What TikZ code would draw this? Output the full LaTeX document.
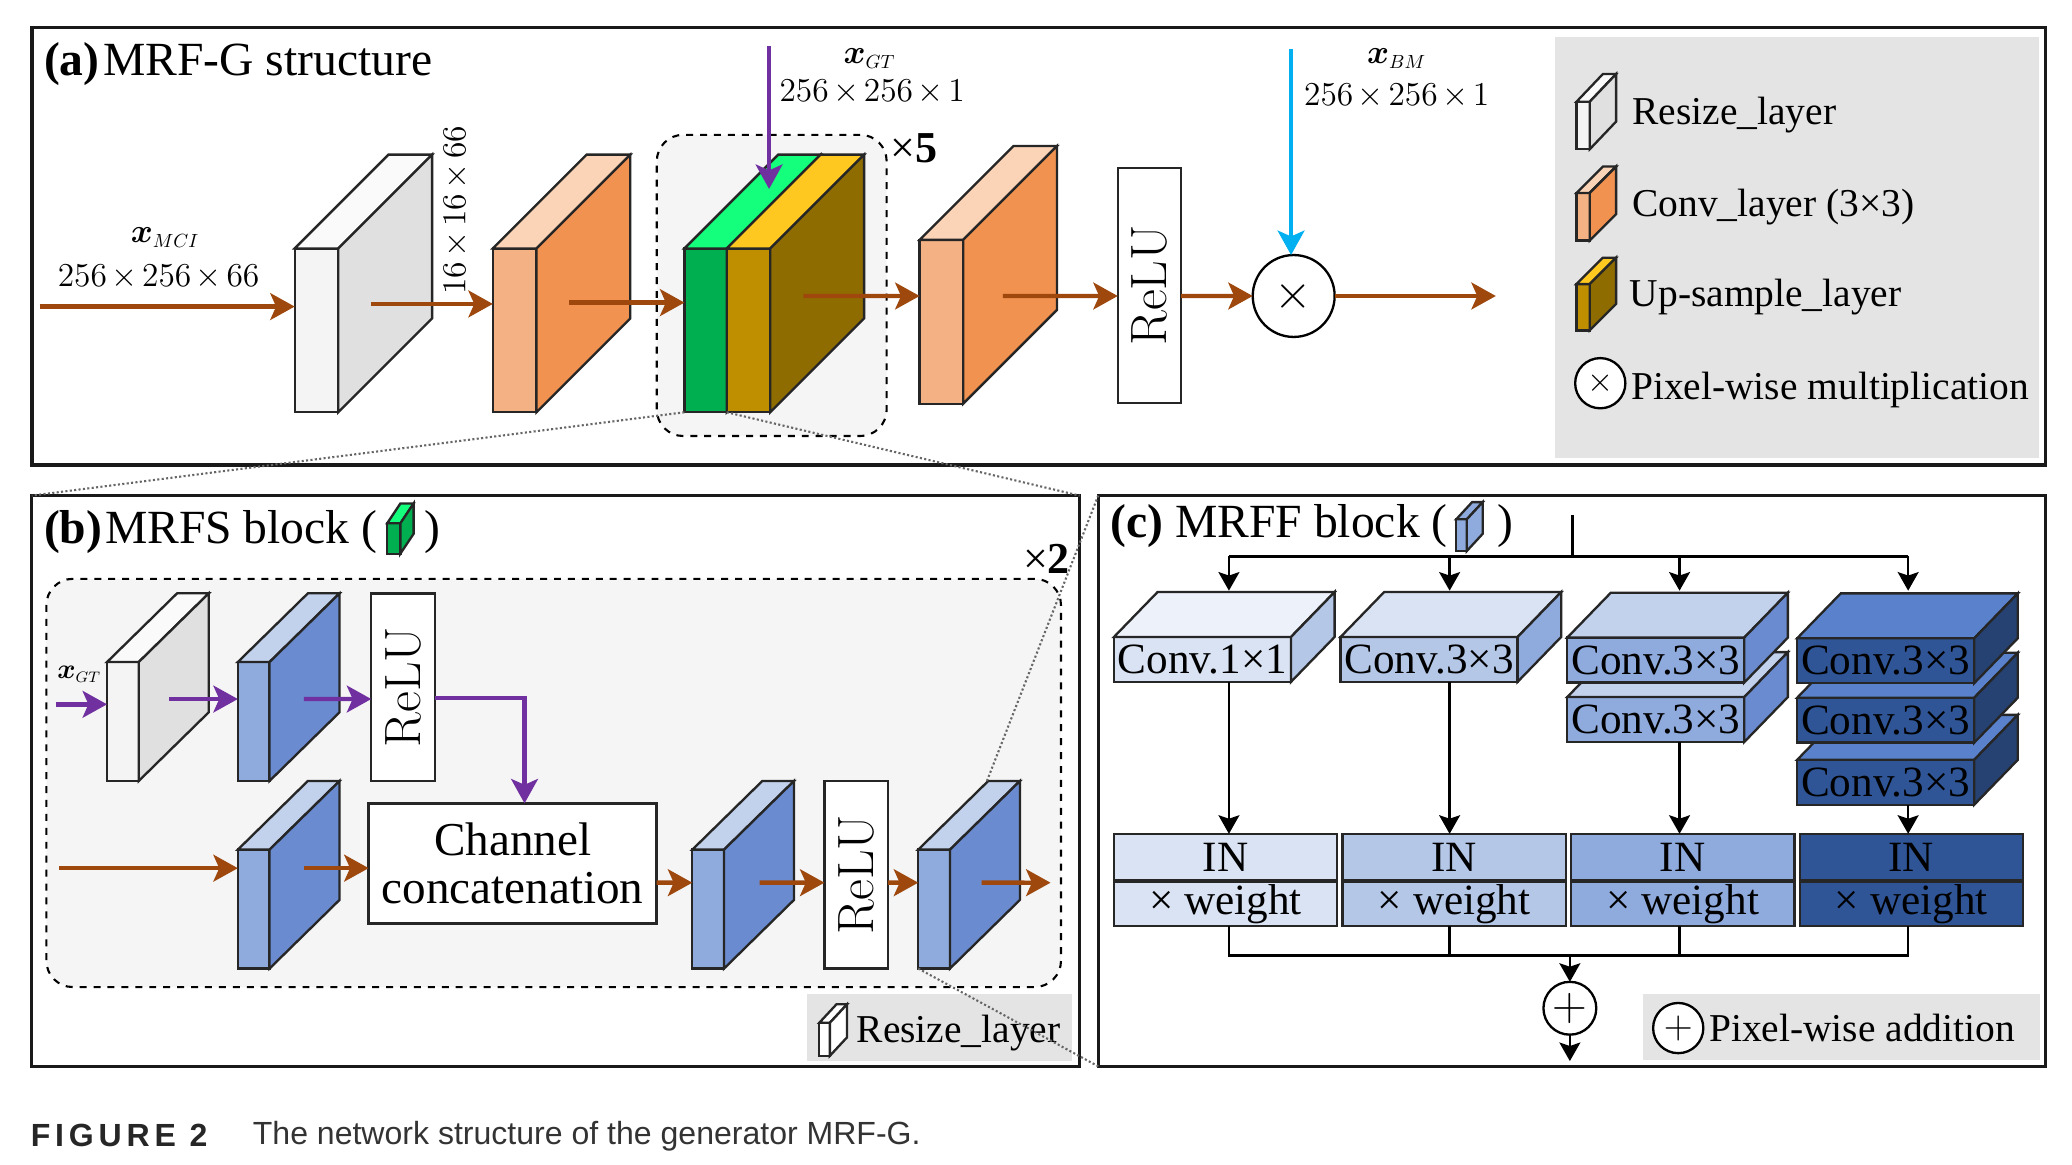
\documentclass[tikz,border=0pt]{standalone}
\usepackage[no-math]{fontspec}
\usepackage{bm}
\usepackage{xcolor}
\usetikzlibrary{arrows.meta,positioning,calc}
\setmainfont{Liberation Serif}
\newfontfamily\cmfont{Latin Modern Roman}
\newfontfamily\capfont{Liberation Sans}
\newfontfamily\capspaced[LetterSpace=15]{Liberation Sans}
\definecolor{flowbrown}{HTML}{9E480E}
\definecolor{flowpurple}{HTML}{7030A0}
\definecolor{flowblue}{HTML}{00B0F0}
\definecolor{panelgray}{HTML}{E4E4E4}
\definecolor{groupgray}{HTML}{F5F5F5}
\definecolor{whitefront}{HTML}{F4F4F4}
\definecolor{whitetop}{HTML}{FAFAFA}
\definecolor{whiteside}{HTML}{E0E0E0}
\definecolor{orangefront}{HTML}{F4B183}
\definecolor{orangetop}{HTML}{FBD3B6}
\definecolor{orangeside}{HTML}{F29250}
\definecolor{greenfront}{HTML}{00AF50}
\definecolor{greentop}{HTML}{14FF7C}
\definecolor{yellowfront}{HTML}{BF8F00}
\definecolor{yellowtop}{HTML}{FFC820}
\definecolor{yellowside}{HTML}{8F6C00}
\definecolor{bluefront}{HTML}{8FAADC}
\definecolor{bluetop}{HTML}{C2D1EC}
\definecolor{blueside}{HTML}{6A8BCF}
\definecolor{paleone}{HTML}{DAE3F3}
\definecolor{paletop}{HTML}{EDF1FA}
\definecolor{paletwo}{HTML}{B4C7E7}
\definecolor{deepfront}{HTML}{2F5597}
\definecolor{deeptop}{HTML}{5A82CC}
\definecolor{deepside}{HTML}{264273}
\tikzset{
  framebox/.style={rectangle, draw=black!90, line width=1.4pt, inner sep=0pt, outer sep=0pt},
  groupbox/.style={rectangle, draw=black, dashed, fill=groupgray, line width=0.9pt,
    rounded corners=0.4cm, inner sep=0pt, outer sep=0pt},
  keybox/.style={rectangle, fill=panelgray, inner sep=0pt, outer sep=0pt},
  front/.style={rectangle, draw=black!85, line width=1pt, fill=#1, inner sep=0pt, outer sep=0pt},
  front/.default=white,
  relubox/.style={rectangle, draw=black!85, line width=1pt, fill=white, inner sep=0pt, outer sep=0pt,
    minimum width=0.96cm, font=\fontsize{22}{24}\cmfont},
  flow/.style={-{Stealth[length=10.5pt,width=11.5pt,inset=2.5pt]}, line width=1.9pt, color=#1},
  flow/.default=flowbrown,
  branch/.style={-{Stealth[length=8pt,width=9pt,inset=1.5pt]}, line width=1.1pt, color=black},
  wire/.style={line width=1.1pt, color=black},
  zoomline/.style={densely dotted, line width=0.9pt, color=black!60},
  opnode/.style={circle, draw=black, line width=1pt, fill=white, inner sep=0pt, outer sep=0pt,
    minimum size=#1},
  titletext/.style={anchor=base west, inner sep=0pt, font=\fontsize{20.5}{24}\selectfont},
  keytext/.style={anchor=west, inner sep=0pt, font=\fontsize{17}{20}\selectfont},
  dimtext/.style={inner sep=0pt, font=\fontsize{14.4}{16}\selectfont},
  convtext/.style={font=\fontsize{18.6}{20}\selectfont},
}
\newcommand{\layerfaces}[5]{%
  \draw[draw=black!85, line width=1pt, fill=#4] (#1.north west) -- ++(#2,-#3)
    -- ($(#1.north east)+(#2,-#3)$) -- (#1.north east) -- cycle;
  \draw[draw=black!85, line width=1pt, fill=#5] (#1.north east) -- ++(#2,-#3)
    -- ($(#1.south east)+(#2,-#3)$) -- (#1.south east) -- cycle;
}
\newcommand{\sizelabel}[3]{$#1\mkern2.5mu{\times}\mkern2.5mu#2\mkern2.5mu{\times}\mkern2.5mu#3$}
\newcommand{\inputlabel}[1]{$\bm{x}_{\scalebox{0.82}{$\scriptstyle #1$}}$}
\begin{document}
\begin{tikzpicture}[x=0.02cm, y=-0.02cm]
\useasboundingbox (0,0) rectangle (1568,881);
\node[framebox, minimum width=30.48cm, minimum height=6.62cm] (framea) at (786,186.5) {};
\node[framebox, minimum width=15.86cm, minimum height=8.64cm] (frameb) at (420.5,591) {};
\node[framebox, minimum width=14.34cm, minimum height=8.64cm] (framec) at (1189.5,591) {};
\node[titletext] (titlea) at (33,57) {\textbf{(a)}\hspace{1.6pt}MRF-G structure};
\node[titletext] (titleb) at (33,411) {\textbf{(b)}\hspace{1.2pt}MRFS block (\hspace{0.72cm})};
\node[titletext] (titlec) at (840,407) {\textbf{(c)} MRFF block (\hspace{0.76cm})};
\node[front=greenfront, minimum width=0.2cm, minimum height=0.46cm] (greenkey) at (298,407.5) {};
\layerfaces{greenkey}{10}{15}{greentop}{greenfront}
\node[front=bluefront, minimum width=0.16cm, minimum height=0.48cm] (bluekey) at (1106,405) {};
\layerfaces{bluekey}{12}{13}{bluefront}{bluefront}
% panel a
\node[groupbox, minimum width=3.48cm, minimum height=4.56cm] (groupa) at (584,216) {};
\node[front=whitefront, minimum width=0.66cm, minimum height=2.48cm] (resize) at (239.5,250) {};
\layerfaces{resize}{71}{71}{whitetop}{whiteside}
\node[front=orangefront, minimum width=0.66cm, minimum height=2.48cm, right=2.34cm of resize] (orangea) {};
\layerfaces{orangea}{71}{71}{orangetop}{orangeside}
\node[front=greenfront, minimum width=0.64cm, minimum height=2.48cm, right=2.24cm of orangea] (green) {};
\layerfaces{green}{71}{71}{greentop}{yellowside}
\node[front=yellowfront, minimum width=0.66cm, minimum height=2.48cm, right=0cm of green] (yellow) {};
\layerfaces{yellow}{71}{71}{yellowtop}{yellowside}
\node[front=orangefront, minimum width=0.66cm, minimum height=2.48cm, right=2.26cm of yellow, yshift=0.13cm] (orangeb) {};
\layerfaces{orangeb}{71}{71}{orangetop}{orangeside}
\node[relubox, minimum height=3.56cm, right=2.34cm of orangeb, yshift=0.55cm] (relu) {\rotatebox{90}{ReLU}};
\node[opnode=1.24cm, font=\fontsize{21}{21}\selectfont] (mult) at (979,224) {$\times$};
\node[dimtext] (mcilabel) at (125,180) {\inputlabel{MCI}};
\node[dimtext] (mcisize) at (120,210) {\sizelabel{256}{256}{66}};
\node[dimtext, rotate=90] (resizesize) at (345,159) {\sizelabel{16}{16}{66}};
\node[dimtext] (gtlabel) at (658,44) {\inputlabel{GT}};
\node[dimtext] (gtsize) at (660,70) {\sizelabel{256}{256}{1}};
\node[dimtext] (bmlabel) at (1057,44) {\inputlabel{BM}};
\node[dimtext] (bmsize) at (1057,73) {\sizelabel{256}{256}{1}};
\node[inner sep=0pt, font=\fontsize{19}{22}\selectfont] (timesfive) at (692,112) {×\textbf{5}};
\coordinate (mciin) at (30,232);
\coordinate (gtin) at (582,35);
\coordinate (gtend) at (582,143);
\coordinate (bmin) at (977,37);
\coordinate (outa) at (1132,224);
\draw[flow] (mciin) -- (resize.west |- mciin);
\draw[flow] ([xshift=0.5cm,yshift=0.4cm]resize.east) -- ([yshift=0.4cm]orangea.west);
\draw[flow] ([xshift=0.5cm,yshift=0.42cm]orangea.east) -- ([yshift=0.42cm]green.west);
\draw[flow] ([xshift=0.5cm,yshift=0.52cm]yellow.east) -- ([yshift=0.39cm]orangeb.west);
\draw[flow] ([xshift=0.6cm,yshift=0.39cm]orangeb.east) -- ([yshift=-0.16cm]relu.west);
\draw[flow] ([yshift=-0.16cm]relu.east) -- (mult.west);
\draw[flow] (mult.east) -- (outa);
\draw[flow=flowpurple] (gtin) -- (gtend);
\draw[flow=flowblue] (bmin) -- (mult.north -| bmin);
% legend a
\node[keybox, minimum width=7.32cm, minimum height=6.38cm] (keya) at (1360,187.5) {};
\node[front=whitefront, minimum width=0.2cm, minimum height=0.72cm] (keyresize) at (1198,95) {};
\layerfaces{keyresize}{20}{21}{whitetop}{whiteside}
\node[front=orangefront, minimum width=0.2cm, minimum height=0.72cm] (keyconv) at (1198,164) {};
\layerfaces{keyconv}{20}{20}{orangetop}{orangeside}
\node[front=yellowfront, minimum width=0.2cm, minimum height=0.7cm] (keyup) at (1198,232.5) {};
\layerfaces{keyup}{20}{20}{yellowtop}{yellowside}
\node[opnode=0.76cm, font=\fontsize{15.5}{16}\selectfont] (keymult) at (1211,290) {$\times$};
\node[keytext] (textresize) at (1235,87) {Resize\_layer};
\node[keytext] (textconv) at (1235,157) {Conv\_layer (3×3)};
\node[keytext] (textup) at (1233,225) {Up-sample\_layer};
\node[keytext] (textmult) at (1234,295) {Pixel-wise multiplication};
% panel b
\node[groupbox, minimum width=15.36cm, minimum height=6.18cm] (groupb) at (419,592.5) {};
\node[inner sep=0pt, font=\fontsize{19}{22}\selectfont] (timestwo) at (792,423) {×\textbf{2}};
\node[front=whitefront, minimum width=0.48cm, minimum height=1.8cm] (resizeb) at (93,546) {};
\layerfaces{resizeb}{53}{52}{whitetop}{whiteside}
\node[front=bluefront, minimum width=0.48cm, minimum height=1.8cm, right=1.5cm of resizeb] (blueone) {};
\layerfaces{blueone}{53}{52}{bluetop}{blueside}
\node[relubox, minimum height=2.84cm, right=1.54cm of blueone, yshift=0.52cm] (relutop) {\rotatebox{90}{ReLU}};
\node[front=bluefront, minimum width=0.48cm, minimum height=1.8cm, below=1.04cm of blueone] (bluetwo) {};
\layerfaces{bluetwo}{53}{52}{bluetop}{blueside}
\node[relubox, minimum width=4.36cm, minimum height=1.82cm, right=1.5cm of bluetwo, yshift=0.69cm,
  align=center, font=\fontsize{20.3}{20.5}\selectfont] (concat) {Channel\\concatenation};
\node[front=bluefront, minimum width=0.48cm, minimum height=1.8cm, right=0.54cm of concat, yshift=-0.69cm] (bluethree) {};
\layerfaces{bluethree}{53}{52}{bluetop}{blueside}
\node[relubox, minimum height=2.84cm, right=1.52cm of bluethree, yshift=0.52cm] (relubot) {\rotatebox{90}{ReLU}};
\node[front=bluefront, minimum width=0.48cm, minimum height=1.8cm, right=0.46cm of relubot, yshift=-0.52cm] (bluefour) {};
\layerfaces{bluefour}{53}{52}{bluetop}{blueside}
\node[inner sep=0pt, font=\fontsize{12}{14}\selectfont] (gtlabelb) at (60,510) {\inputlabel{GT}};
\coordinate (gtbin) at (42,533);
\coordinate (brownb) at (45,657);
\coordinate (outb) at (795,668);
\draw[flow=flowpurple] (gtbin) -- (resizeb.west |- gtbin);
\draw[flow=flowpurple] ([xshift=0.46cm,yshift=0.34cm]resizeb.east) -- ([yshift=0.34cm]blueone.west);
\draw[flow=flowpurple] ([xshift=0.52cm,yshift=0.34cm]blueone.east) -- ([yshift=-0.18cm]relutop.west);
\draw[flow=flowpurple] ([yshift=-0.16cm]relutop.east) -| ([xshift=0.18cm]concat.north);
\draw[flow] (brownb) -- (bluetwo.west |- brownb);
\draw[flow] ([xshift=0.52cm,yshift=0.62cm]bluetwo.east) -- ([yshift=-0.07cm]concat.west);
\draw[flow] ([yshift=-0.29cm]concat.east) -- ([yshift=0.4cm]bluethree.west);
\draw[flow] ([xshift=0.54cm,yshift=0.4cm]bluethree.east) -- ([yshift=-0.12cm]relubot.west);
\draw[flow] ([yshift=-0.12cm]relubot.east) -- ([yshift=0.4cm]bluefour.west);
\draw[flow] ([xshift=0.48cm,yshift=0.4cm]bluefour.east) -- (outb);
\node[keybox, minimum width=4cm, minimum height=1.02cm] (keyb) at (711,777.5) {};
\node[front=white, minimum width=0.16cm, minimum height=0.5cm] (keyresizeb) at (624,786.5) {};
\layerfaces{keyresizeb}{13}{14}{white}{white}
\node[keytext] (textresizeb) at (648,782) {Resize\_layer};
% panel c
\node[front=paleone, convtext, minimum width=2.68cm, minimum height=0.68cm] (convone) at (910,499) {Conv.1×1};
\layerfaces{convone}{33}{34}{paletop}{paletwo}
\node[front=paletwo, convtext, minimum width=2.68cm, minimum height=0.68cm, right=0.75cm of convone] (convtwo) {Conv.3×3};
\layerfaces{convtwo}{33}{34}{paleone}{bluefront}
\node[front=bluefront, convtext, minimum width=2.68cm, minimum height=0.68cm] (convthreeb) at (1253,544.5) {Conv.3×3};
\layerfaces{convthreeb}{33}{34}{bluetop}{blueside}
\node[front=bluefront, convtext, minimum width=2.68cm, minimum height=0.68cm, above=0.22cm of convthreeb] (convthree) {Conv.3×3};
\layerfaces{convthree}{33}{34}{bluetop}{blueside}
\node[front=deepfront, convtext, minimum width=2.68cm, minimum height=0.68cm] (convfourc) at (1427,592) {Conv.3×3};
\layerfaces{convfourc}{33}{34}{deeptop}{deepside}
\node[front=deepfront, convtext, minimum width=2.68cm, minimum height=0.68cm, above=0.26cm of convfourc] (convfourb) {Conv.3×3};
\layerfaces{convfourb}{33}{34}{deeptop}{deepside}
\node[front=deepfront, convtext, minimum width=2.68cm, minimum height=0.68cm, above=0.22cm of convfourb] (convfour) {Conv.3×3};
\layerfaces{convfour}{33}{34}{deeptop}{deepside}
\node[front=paleone, convtext, minimum width=3.38cm, minimum height=0.7cm] (inone) at (927.5,648.5) {IN};
\node[front=paletwo, convtext, minimum width=3.38cm, minimum height=0.7cm, right=0.08cm of inone] (intwo) {IN};
\node[front=bluefront, convtext, minimum width=3.38cm, minimum height=0.7cm, right=0.08cm of intwo] (inthree) {IN};
\node[front=deepfront, convtext, minimum width=3.38cm, minimum height=0.7cm, right=0.08cm of inthree] (infour) {IN};
\node[front=paleone, convtext, minimum width=3.38cm, minimum height=0.68cm, below=0.02cm of inone] (weightone) {× weight};
\node[front=paletwo, convtext, minimum width=3.38cm, minimum height=0.68cm, below=0.02cm of intwo] (weighttwo) {× weight};
\node[front=bluefront, convtext, minimum width=3.38cm, minimum height=0.68cm, below=0.02cm of inthree] (weightthree) {× weight};
\node[front=deepfront, convtext, minimum width=3.38cm, minimum height=0.68cm, below=0.02cm of infour] (weightfour) {× weight};
\node[opnode=0.8cm, font=\fontsize{20.74}{21}\selectfont] (add) at (1188,763) {$+$};
\coordinate (stem) at (1190,390);
\coordinate (busone) at (930,421);
\coordinate (bustwo) at (1097,421);
\coordinate (busthree) at (1271,421);
\coordinate (busfour) at (1444,421);
\coordinate (dropone) at (930,447);
\coordinate (droptwo) at (1097,447);
\coordinate (dropthree) at (1271,447);
\coordinate (dropfour) at (1444,447);
\coordinate (sumbus) at (1188,723);
\coordinate (outc) at (1188,803);
\draw[wire] (stem) -- (stem |- busone);
\draw[wire, line width=1.5pt] (busone) -- (busfour);
\draw[branch] (busone) -- (dropone);
\draw[branch] (bustwo) -- (droptwo);
\draw[branch] (busthree) -- (dropthree);
\draw[branch] (busfour) -- (dropfour);
\draw[branch] (busone |- convone.south) -- (busone |- inone.north);
\draw[branch] (bustwo |- convtwo.south) -- (bustwo |- intwo.north);
\draw[branch] (busthree |- convthreeb.south) -- (busthree |- inthree.north);
\draw[branch] (busfour |- convfourc.south) -- (busfour |- infour.north);
\draw[wire] (busone |- weightone.south) -- (busone |- sumbus) -- (busfour |- sumbus) -- (busfour |- weightfour.south);
\draw[wire] (bustwo |- weighttwo.south) -- (bustwo |- sumbus);
\draw[wire] (busthree |- weightthree.south) -- (busthree |- sumbus);
\draw[branch] (sumbus) -- (add.north);
\draw[branch] (add.south) -- (outc);
\node[keybox, minimum width=6cm, minimum height=1.0cm] (keyc) at (1393.5,777.5) {};
\node[opnode=0.76cm, font=\fontsize{17}{17}\selectfont] (keyadd) at (1270,778) {$+$};
\node[keytext] (textadd) at (1293,778) {Pixel-wise addition};
% zoom lines
\draw[zoomline] (green.south west) -- (frameb.north west);
\draw[zoomline] (green.south east) -- (frameb.north east);
\draw[zoomline] ([xshift=1.04cm,yshift=1.04cm]bluefour.north west) -- (framec.north west);
\draw[zoomline] (bluefour.south west) -- (framec.south west);
\node[anchor=west, inner sep=0pt, text=black!85, font=\fontsize{13.8}{15}\capspaced\bfseries] (figtag) at (23,859) {FIGURE 2};
\node[anchor=west, inner sep=0pt, text=black!80, font=\fontsize{13.8}{15}\capfont] (caption) at (191,860) {The network structure of the generator MRF-G.};
\end{tikzpicture}
\end{document}
